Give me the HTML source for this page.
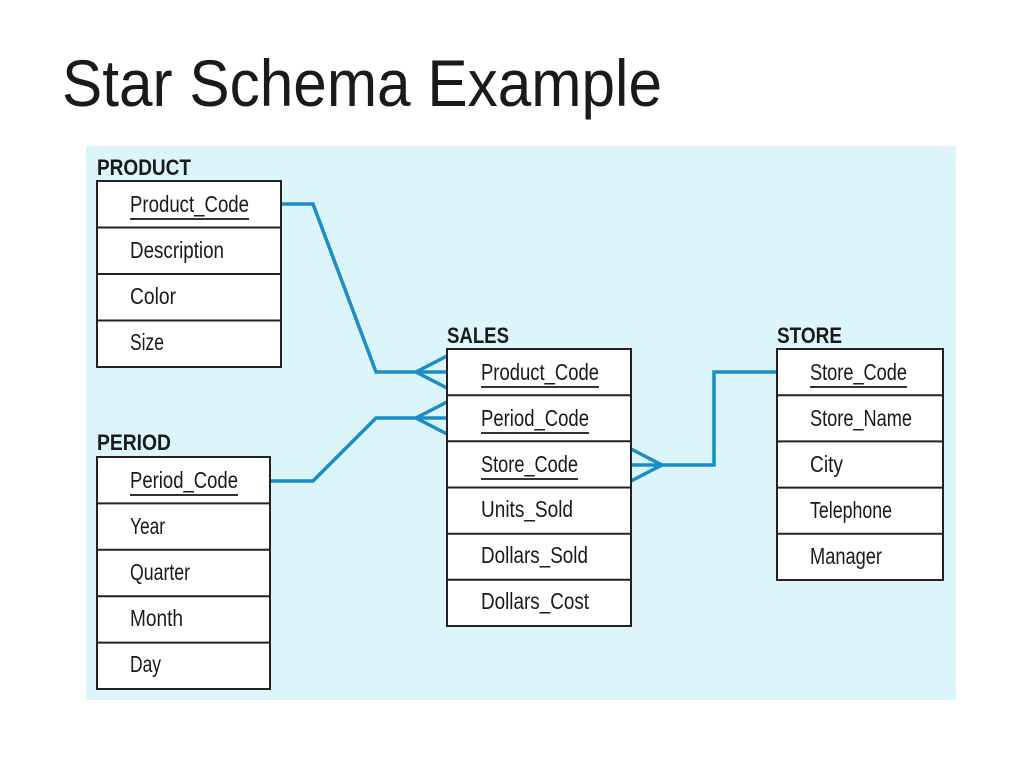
<!DOCTYPE html>
<html><head><meta charset="utf-8"><style>
html,body{margin:0;padding:0;background:#fff;width:1024px;height:768px;overflow:hidden}
svg{display:block}
text{font-family:"Liberation Sans",Arial,sans-serif;fill:#1a1a1a}
.h{font-size:22px;font-weight:bold}
.r{font-size:23px}
</style></head><body>
<svg width="1024" height="768" viewBox="0 0 1024 768" xmlns="http://www.w3.org/2000/svg">
<text x="62" y="106" style="font-size:66px" textLength="600" lengthAdjust="spacingAndGlyphs">Star Schema Example</text>
<rect x="86" y="146" width="870" height="554" fill="#dbf5fb"/>

<g fill="none" stroke="#1a8cc6" stroke-width="3.5" stroke-linejoin="miter">
<polyline points="281,204 313,204 376,372 447,372"/>
<polyline points="447,356 416,372 447,388"/>
<polyline points="270,481 313,481 376,418 447,418"/>
<polyline points="447,402 416,418 447,434"/>
<polyline points="631,465 714,465 714,372 777,372"/>
<polyline points="631,449 662,465 631,481"/>
</g>

<g fill="#fff" stroke="#222" stroke-width="2">
<rect x="97" y="181" width="184" height="186"/>
<line x1="97" y1="227.5" x2="281" y2="227.5"/><line x1="97" y1="274" x2="281" y2="274"/><line x1="97" y1="320.5" x2="281" y2="320.5"/>
<rect x="97" y="457" width="173" height="232"/>
<line x1="97" y1="503.4" x2="270" y2="503.4"/><line x1="97" y1="549.8" x2="270" y2="549.8"/><line x1="97" y1="596.2" x2="270" y2="596.2"/><line x1="97" y1="642.6" x2="270" y2="642.6"/>
<rect x="447" y="349" width="184" height="277"/>
<line x1="447" y1="395.2" x2="631" y2="395.2"/><line x1="447" y1="441.3" x2="631" y2="441.3"/><line x1="447" y1="487.5" x2="631" y2="487.5"/><line x1="447" y1="533.7" x2="631" y2="533.7"/><line x1="447" y1="579.8" x2="631" y2="579.8"/>
<rect x="777" y="349" width="166" height="231"/>
<line x1="777" y1="395.2" x2="943" y2="395.2"/><line x1="777" y1="441.4" x2="943" y2="441.4"/><line x1="777" y1="487.6" x2="943" y2="487.6"/><line x1="777" y1="533.8" x2="943" y2="533.8"/>
</g>

<g stroke="#333" stroke-width="2">
<line x1="130" y1="219" x2="249" y2="219"/>
<line x1="130" y1="495" x2="238" y2="495"/>
<line x1="481" y1="387" x2="599" y2="387"/>
<line x1="481" y1="433" x2="589" y2="433"/>
<line x1="481" y1="479" x2="578" y2="479"/>
<line x1="810" y1="387" x2="907" y2="387"/>
</g>

<text class="h" x="97" y="175" textLength="94" lengthAdjust="spacingAndGlyphs">PRODUCT</text>
<text class="h" x="97" y="450" textLength="74" lengthAdjust="spacingAndGlyphs">PERIOD</text>
<text class="h" x="447" y="343" textLength="62" lengthAdjust="spacingAndGlyphs">SALES</text>
<text class="h" x="777" y="343" textLength="65" lengthAdjust="spacingAndGlyphs">STORE</text>

<text class="r" x="130" y="212" textLength="119" lengthAdjust="spacingAndGlyphs">Product_Code</text>
<text class="r" x="130" y="258" textLength="94" lengthAdjust="spacingAndGlyphs">Description</text>
<text class="r" x="130" y="304" textLength="46" lengthAdjust="spacingAndGlyphs">Color</text>
<text class="r" x="130" y="350" textLength="34" lengthAdjust="spacingAndGlyphs">Size</text>

<text class="r" x="130" y="488" textLength="108" lengthAdjust="spacingAndGlyphs">Period_Code</text>
<text class="r" x="130" y="534" textLength="35" lengthAdjust="spacingAndGlyphs">Year</text>
<text class="r" x="130" y="580" textLength="60" lengthAdjust="spacingAndGlyphs">Quarter</text>
<text class="r" x="130" y="626" textLength="53" lengthAdjust="spacingAndGlyphs">Month</text>
<text class="r" x="130" y="672" textLength="31" lengthAdjust="spacingAndGlyphs">Day</text>

<text class="r" x="481" y="380" textLength="118" lengthAdjust="spacingAndGlyphs">Product_Code</text>
<text class="r" x="481" y="426" textLength="108" lengthAdjust="spacingAndGlyphs">Period_Code</text>
<text class="r" x="481" y="472" textLength="97" lengthAdjust="spacingAndGlyphs">Store_Code</text>
<text class="r" x="481" y="517" textLength="92" lengthAdjust="spacingAndGlyphs">Units_Sold</text>
<text class="r" x="481" y="563" textLength="107" lengthAdjust="spacingAndGlyphs">Dollars_Sold</text>
<text class="r" x="481" y="609" textLength="108" lengthAdjust="spacingAndGlyphs">Dollars_Cost</text>

<text class="r" x="810" y="380" textLength="97" lengthAdjust="spacingAndGlyphs">Store_Code</text>
<text class="r" x="810" y="426" textLength="102" lengthAdjust="spacingAndGlyphs">Store_Name</text>
<text class="r" x="810" y="472" textLength="33" lengthAdjust="spacingAndGlyphs">City</text>
<text class="r" x="810" y="518" textLength="82" lengthAdjust="spacingAndGlyphs">Telephone</text>
<text class="r" x="810" y="564" textLength="72" lengthAdjust="spacingAndGlyphs">Manager</text>
</svg>
</body></html>
